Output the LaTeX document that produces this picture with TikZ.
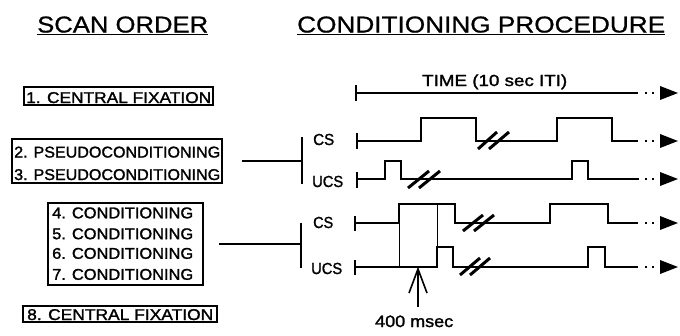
\documentclass[tikz,border=0pt]{standalone}
\usepackage{fontspec}
\setmainfont{Liberation Sans}
\newfontfamily\medfont[FakeBold=1.5]{Liberation Sans}
\newfontfamily\headfam[FakeBold=0.8]{Liberation Sans}
\usepackage{graphicx}
\newcommand{\fw}[2]{\resizebox{#1pt}{\height}{#2}}
\newcommand{\arrend}[1]{%
  \fill (644.5,#1-1.25) rectangle ++(2.5,2.5);
  \fill (651.5,#1-1.25) rectangle ++(2.5,2.5);
  \fill (660,#1-7) -- (678,#1) -- (660,#1+7) -- cycle;}
\tikzset{
  sig/.style={line width=2pt, line join=miter},
  thinln/.style={line width=1pt},
  slashst/.style={line width=3pt},
  boxst/.style={draw, line width=1.6pt, inner sep=0pt, minimum width=#1},
  txt/.style={inner sep=0pt, anchor=base west},
  boxfont/.style={font=\medfont\fontsize{15.6}{18}\selectfont},
  headfont/.style={font=\headfam\fontsize{23}{27}\selectfont},
  labfont/.style={font=\medfont\fontsize{16}{18}\selectfont},
  msfont/.style={font=\medfont\fontsize{16.5}{19}\selectfont},
  uline/.style={line width=1.5pt},
  conn/.style={line width=2pt},
}
\begin{document}
\begin{tikzpicture}[x=1pt,y=-1pt]
\useasboundingbox (0,0) rectangle (680,335);

% headings
\node[txt, headfont] (h1) at (37,32.5) {\fw{171}{SCAN ORDER}};
\node[txt, headfont] (h2) at (297,32.5) {\fw{368}{CONDITIONING PROCEDURE}};
\draw[uline] ([yshift=-2pt]h1.base west) -- ([yshift=-2pt]h1.base east);
\draw[uline] ([yshift=-2pt]h2.base west) -- ([yshift=-2pt]h2.base east);

% boxes
\node[boxst=189pt, minimum height=18pt] (b1) at (118.5,96) {};
\node[boxst=210pt, minimum height=44pt] (b23) at (117,161) {};
\node[boxst=155pt, minimum height=82pt] (b47) at (125.5,244) {};
\node[boxst=194pt, minimum height=16pt] (b8) at (120,314) {};

\node[txt, boxfont] (t1) at (26,103) {\fw{185}{1. CENTRAL FIXATION}};
\node[txt, boxfont] (t2) at (14,157.5) {\fw{206}{2. PSEUDOCONDITIONING}};
\node[txt, boxfont] (t3) at (14,180) {\fw{206}{3. PSEUDOCONDITIONING}};
\node[txt, boxfont] (t4) at (52,218.3) {\fw{141}{4. CONDITIONING}};
\node[txt, boxfont] (t5) at (52,239.2) {\fw{141}{5. CONDITIONING}};
\node[txt, boxfont] (t6) at (52,258.8) {\fw{141}{6. CONDITIONING}};
\node[txt, boxfont] (t7) at (52,279.8) {\fw{141}{7. CONDITIONING}};
\node[txt, boxfont] (t8) at (27,320) {\fw{186}{8. CENTRAL FIXATION}};

% bars and connectors
\coordinate (bar1) at (302,161);
\coordinate (bar2) at (301,244);
\draw[conn] (302,137) -- (302,184);
\draw[conn] (301,223) -- (301,268);
\draw[conn, shorten <=19pt] (b23.east) -- (bar1);
\draw[conn, shorten <=15pt] (b47.east) -- (bar2);

% labels
\node[txt, labfont] (cs1) at (313,145) {\fw{21}{CS}};
\node[txt, labfont] (ucs1) at (312,187) {\fw{31}{UCS}};
\node[txt, labfont] (cs2) at (313,228) {\fw{20}{CS}};
\node[txt, labfont] (ucs2) at (311,274) {\fw{31}{UCS}};
\node[txt, labfont] (time) at (422,86) {\fw{145}{TIME (10 sec ITI)}};
\node[txt, msfont] (ms) at (375,327) {\fw{78}{400 msec}};

% time axis
\draw[line width=1.8pt] (356,85) -- (356,101);
\draw[line width=1.5pt] (356,93) -- (638,93);
\arrend{93}

% row A: CS pseudo
\draw[line width=1.8pt] (357,133) -- (357,149);
\draw[sig] (357,141) -- (421,141) -- (421,118) -- (476,118) -- (476,141)
  -- (557,141) -- (557,118) -- (612,118) -- (612,141) -- (638,141);
\draw[slashst] (478,149) -- (497,132);
\draw[slashst] (489,149) -- (509,132);
\arrend{141}

% row B: UCS pseudo
\draw[line width=1.8pt] (357,172) -- (357,188);
\draw[sig] (357,179) -- (385,179) -- (385,161) -- (401,161) -- (401,179)
  -- (572,179) -- (572,161) -- (588,161) -- (588,179) -- (639,179);
\draw[slashst] (408,188) -- (429,171);
\draw[slashst] (419,188) -- (440,171);
\arrend{179}

% row C: CS conditioning
\draw[line width=1.8pt] (355,216) -- (355,231);
\draw[sig] (355,223) -- (399,223) -- (399,204) -- (455,204) -- (455,223)
  -- (550,223) -- (550,204) -- (608,204) -- (608,223) -- (638,223);
\draw[slashst] (463,231) -- (483,215);
\draw[slashst] (474,231) -- (494,215);
\arrend{223}

% row D: UCS conditioning
\draw[line width=1.8pt] (355,260) -- (355,275);
\draw[sig] (355,267) -- (437,267) -- (437,247) -- (453,247) -- (453,267)
  -- (588,267) -- (588,247) -- (605,247) -- (605,267) -- (638,267);
\draw[slashst] (460,275) -- (480,258);
\draw[slashst] (470,275) -- (490,258);
\arrend{267}

% 400 msec window
\draw[thinln] (399,223) -- (399,267);
\draw[thinln] (437,204) -- (437,247);

% arrow
\coordinate (tip) at (418,269);
\draw[line width=2pt] (418,307) -- (tip);
\draw[line width=1.6pt] (409,293) -- (tip) -- (427,293);
\end{tikzpicture}
\end{document}
